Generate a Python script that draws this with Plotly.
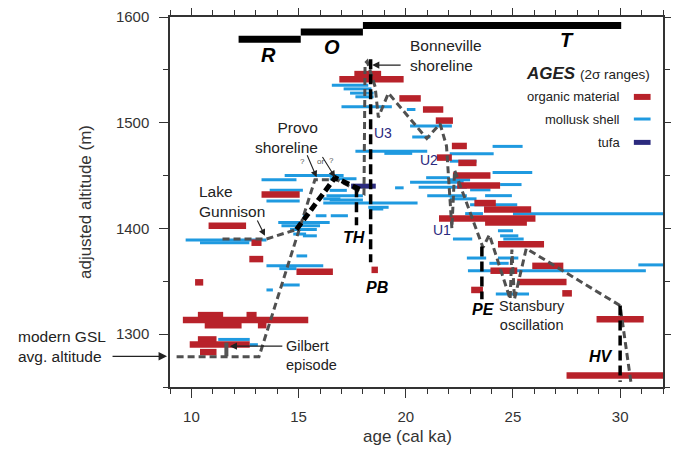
import plotly.graph_objects as go

# ---------------- data ----------------
# organic material (2-sigma age ranges, cal ka) and adjusted altitudes (m)
organic_alt = [1546, 1541, 1523, 1512.5, 1502, 1478, 1467, 1462, 1450, 1440.5, 1424, 1418,
               1409.5, 1405.7, 1385, 1364.6, 1360, 1349.4, 1341.8, 1338.6, 1360.8, 1432,
               1402.6, 1386.5, 1371, 1359, 1349, 1318, 1318, 1313.3, 1308.5, 1308.5, 1295,
               1290.2, 1283, 1314, 1260.8]
organic_min = [17.6, 16.9, 19.7, 20.8, 21.4, 22.15, 21.45, 22.45, 22.2, 22.4, 23.2, 23.65,
               21.55, 23.7, 24.3, 25.9, 23.95, 25.2, 23.05, 27.3, 18.4, 13.27,
               10.8, 12.8, 12.7, 14.9, 10.17, 10.3, 12.57, 9.6, 10.62, 13.1, 10.3,
               9.92, 10.4, 28.9, 27.5]
organic_max = [18.85, 19.9, 20.7, 21.75, 22.2, 22.85, 22.15, 23.3, 23.95, 24.4, 24.2, 25.85,
               26.05, 25.65, 26.45, 27.35, 25.2, 27.5, 23.6, 27.75, 18.7, 15.05,
               12.55, 13.27, 13.35, 16.6, 10.55, 11.48, 13.04, 15.45, 12.34, 13.5, 11.17,
               12.72, 11.17, 31.1, 32.0]

# mollusk shell
shell_alt = [1535.5, 1532, 1528, 1524.5, 1515, 1512.5, 1497, 1486.5, 1473, 1471, 1470.7, 1477.6,
             1463.6, 1453, 1448, 1443.7, 1446, 1441.5, 1439, 1438.4, 1436.5, 1431, 1431, 1428,
             1427, 1424, 1422.5, 1420, 1414, 1414, 1412, 1412, 1412, 1397.8, 1393, 1390, 1390,
             1372, 1372, 1367, 1360, 1365.5, 1338, 1450, 1446, 1436, 1426, 1436, 1428, 1418.4,
             1405.7, 1402.6, 1399, 1394.7, 1393, 1389, 1386.5, 1374, 1364.6, 1362, 1346.5,
             1341.8, 1295, 1290, 1431, 1447]
shell_min = [16.55, 17.1, 17.4, 17.65, 17.0, 20.05, 20.2, 20.3, 17.65, 19.0, 22.05, 24.05,
             22.05, 24.05, 20.95, 20.2, 22.05, 24.4, 20.6, 19.5, 23.0, 21.0, 23.7, 22.05,
             16.45, 16.15, 23.0, 18.25, 22.77, 25.0, 15.2, 15.8, 16.5, 24.3, 24.4, 22.2, 24.55,
             22.85, 24.3, 23.9, 22.9, 30.85, 24.2, 14.35, 13.27, 13.65, 13.5, 16.45, 16.15, 18.3,
             14.05, 14.2, 14.6, 14.75, 15.2, 9.73, 10.4, 14.9, 13.5, 14.1, 14.2,
             13.5, 11.25, 12.72, 16.3, 16.45]
shell_max = [18.25, 18.4, 18.5, 18.5, 19.35, 20.45, 22.15, 21.15, 21.0, 20.3, 24.1, 25.45,
             23.3, 25.9, 22.05, 22.7, 23.0, 25.4, 22.85, 19.9, 23.95, 22.85, 24.95, 23.3,
             18.0, 20.55, 25.2, 19.2, 23.6, 32.0, 15.45, 16.3, 17.3, 25.0, 25.25, 23.1, 25.5,
             23.75, 25.25, 24.8, 31.2, 32.0, 25.75, 17.1, 14.9, 15.2, 15.05, 17.25, 16.95, 18.95,
             16.45, 16.0, 15.85, 15.35, 15.85, 13.5, 12.7, 15.4, 16.15, 14.9, 15.05,
             13.8, 12.72, 13.1, 18.0, 17.7]

# tufa
tufa_alt = [1440]
tufa_min = [17.45]
tufa_max = [18.6]

# lake hydrograph (gray dashed) paths
hydro_main_age = [30.5, 30.0, 25.62, 25.07, 24.95, 24.87, 23.9, 23.6, 22.28, 22.15, 21.9, 21.6,
                  20.98, 19.19, 18.72, 18.57, 18.2, 18.1, 18.05, 16.78, 15.76, 13.15, 9.3]
hydro_main_alt = [1255, 1327, 1381, 1333, 1380, 1333, 1394, 1382, 1455, 1400, 1478, 1499,
                  1485, 1528, 1505, 1534, 1558, 1556, 1433, 1446, 1446, 1278.5, 1278.5]
gunnison_age = [11.45, 13.5, 14.9]
gunnison_alt = [1390, 1390, 1399]
provo_alt_age = [14.9, 16.7, 17.85]
provo_alt_alt = [1399, 1448, 1437]

# events (black dashed verticals)
event_names = ["TH", "PB", "PE", "HV"]
event_age = [17.7, 18.36, 23.55, 30.0]
event_top = [1439, 1560, 1383, 1327]
event_bottom = [1403, 1368, 1333, 1255]

# Gilbert episode bar
gilbert_age = [11.63, 11.63]
gilbert_alt = [1279, 1292]

# chronology bars
period_names = ["R", "O", "T"]
period_start = [12.2, 15.1, 18.0]
period_end = [15.1, 18.0, 30.05]
period_alt = [1579, 1585.7, 1592]

# ---------------- helpers ----------------
def segs(mins, maxs, alts):
    xs, ys = [], []
    for a, b, c in zip(mins, maxs, alts):
        xs += [a, b, None]
        ys += [c, c, None]
    return xs, ys

RED = "#b8222a"
BLUE = "#1f9ae0"
NAVY = "#2b2a7e"
GRAY = "#505050"
FONT = "Liberation Sans, Arial, sans-serif"

fig = go.Figure()

x, y = segs(shell_min, shell_max, shell_alt)
fig.add_trace(go.Scatter(x=x, y=y, mode="lines", line=dict(color=BLUE, width=3), hoverinfo="skip"))
x, y = segs(organic_min, organic_max, organic_alt)
fig.add_trace(go.Scatter(x=x, y=y, mode="lines", line=dict(color=RED, width=6.5), hoverinfo="skip"))
x, y = segs(tufa_min, tufa_max, tufa_alt)
fig.add_trace(go.Scatter(x=x, y=y, mode="lines", line=dict(color=NAVY, width=5), hoverinfo="skip"))
x, y = segs(period_start, period_end, period_alt)
fig.add_trace(go.Scatter(x=x, y=y, mode="lines", line=dict(color="black", width=7), hoverinfo="skip"))

fig.add_trace(go.Scatter(x=gilbert_age, y=gilbert_alt, mode="lines",
                         line=dict(color="#555555", width=4), hoverinfo="skip"))

fig.add_trace(go.Scatter(x=hydro_main_age, y=hydro_main_alt, mode="lines",
                         line=dict(color=GRAY, width=3, dash="7px,4px"), hoverinfo="skip"))
fig.add_trace(go.Scatter(x=gunnison_age, y=gunnison_alt, mode="lines",
                         line=dict(color=GRAY, width=3, dash="7px,4px"), hoverinfo="skip"))
fig.add_trace(go.Scatter(x=provo_alt_age, y=provo_alt_alt, mode="lines",
                         line=dict(color="black", width=5, dash="8px,4px"), hoverinfo="skip"))
x, y = [], []
for a, t, b in zip(event_age, event_top, event_bottom):
    x += [a, a, None]
    y += [t, b, None]
fig.add_trace(go.Scatter(x=x, y=y, mode="lines",
                         line=dict(color="black", width=3.5, dash="10px,5px"), hoverinfo="skip"))

ann = []
def text(xv, yv, s, size=15.5, xanchor="center", yanchor="middle", color="#222", xref="x", align="center"):
    ann.append(dict(x=xv, y=yv, xref=xref, yref="y", text=s, showarrow=False,
                    xanchor=xanchor, yanchor=yanchor, align=align,
                    font=dict(family=FONT, size=size, color=color)))

def arrow(hx, hy, tx, ty, width=1.2, color="#222", headsize=1.2):
    ann.append(dict(x=hx, y=hy, ax=tx, ay=ty, xref="x", yref="y", axref="x", ayref="y",
                    text="", showarrow=True, arrowhead=2, arrowsize=headsize,
                    arrowwidth=width, arrowcolor=color))

# chronology labels
for n, xv, yv in zip(period_names, [13.58, 16.54, 27.52], [1564, 1572, 1578]):
    text(xv, yv, "<b><i>%s</i></b>" % n, size=20, color="black")
# event labels
for n, xv, yv in zip(event_names, [17.58, 18.64, 23.63, 29.1], [1391.5, 1344, 1323.5, 1279]):
    text(xv, yv, "<b><i>%s</i></b>" % n, size=16, color="black")
# U labels
for n, xv, yv in zip(["U3", "U2", "U1"], [18.96, 21.06, 21.68], [1490, 1464.3, 1398.5]):
    text(xv, yv, n, size=14, color=NAVY)

text(20.1, 1563.5, "Bonneville<br>shoreline", xanchor="left", align="left")
arrow(18.43, 1554.5, 19.83, 1554.5)
text(31.5, 1547, "<b><i>AGES</i></b> <span style='font-size:13.5px'>(2σ ranges)</span>",
     size=17, xanchor="right")
for s, yv in zip(["organic material", "mollusk shell", "tufa"], [1524.4, 1503.5, 1481.4]):
    text(30.09, yv, s, size=13, xanchor="right")
text(15.99, 1486, "Provo<br>shoreline", xanchor="right", align="right")
text(15.19, 1463, "?", size=8, color="#555")
text(16.0, 1463, "or", size=8, color="#555")
text(16.54, 1464, "?", size=8, color="#555")
arrow(15.84, 1448.4, 15.37, 1470.6, width=1.1)
arrow(16.7, 1448.4, 16.07, 1469, width=1.1)
text(10.25, 1425.4, "Lake<br>Gunnison", xanchor="left", align="left")
arrow(13.43, 1393, 13.04, 1409, width=1.1)
text(25.89, 1318, "Stansbury<br>oscillation", size=14.5)
text(14.31, 1280, "Gilbert<br>episode", size=14.5, xanchor="left", align="left")
arrow(11.79, 1288.6, 14.31, 1288.6)
ann.append(dict(x=-0.3124, y=1288, xref="paper", yref="y", text="modern GSL<br>avg. altitude",
                showarrow=False, xanchor="left", yanchor="middle", align="left",
                font=dict(family=FONT, size=15.5, color="#222")))
ann.append(dict(x=-0.006, y=1279, xref="paper", yref="y", ax=-56, ay=0, text="",
                showarrow=True, arrowhead=2, arrowsize=1.3, arrowwidth=1.3, arrowcolor="#222"))
# x axis title
ann.append(dict(x=0.481, y=-0.135, xref="paper", yref="paper", text="age (cal ka)",
                showarrow=False, xanchor="center", yanchor="middle",
                font=dict(family=FONT, size=17, color="#333")))

# legend swatches
shapes = []
for c, w, yv in zip([RED, BLUE, NAVY], [6, 3, 5], [1524.4, 1503.5, 1481.4]):
    shapes.append(dict(type="line", xref="x", yref="y", x0=30.64, x1=31.42, y0=yv, y1=yv,
                       line=dict(color=c, width=w)))

axis_common = dict(showgrid=False, zeroline=False, showline=True, linecolor="#333", linewidth=1.5,
                   ticks="outside", ticklen=9, tickwidth=1.3, tickcolor="#333", mirror="ticks",
                   automargin=False,
                   tickfont=dict(family=FONT, size=15, color="#333"))
# the page body adds an 8 px margin, so the figure is offset and sized to fit the window
fig.update_layout(
    width=663, height=441, margin=dict(l=162, r=8, t=9, b=62),
    plot_bgcolor="white", paper_bgcolor="white", showlegend=False,
    annotations=ann, shapes=shapes,
    xaxis=dict(range=[9, 32], tickvals=[10, 15, 20, 25, 30], **axis_common, ticklabelstandoff=6,
               minor=dict(dtick=1, tick0=0, ticks="outside", ticklen=5, tickcolor="#333")),
    yaxis=dict(range=[1250, 1600], tickvals=[1300, 1400, 1500, 1600], **axis_common, ticklabelstandoff=7,
               minor=dict(dtick=50, tick0=0, ticks="outside", ticklen=5, tickcolor="#333"),
               title=dict(text="adjusted altitude (m)", font=dict(family=FONT, size=17, color="#333"), standoff=20)),
)
fig.write_html("out.html")
